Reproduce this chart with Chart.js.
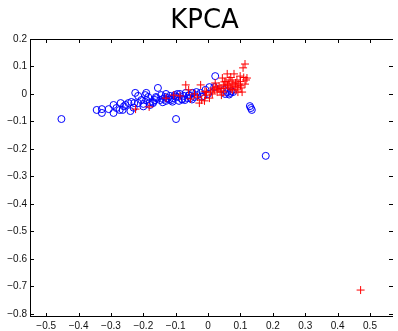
<!DOCTYPE html>
<html>
<head>
<meta charset="utf-8">
<script src="https://cdn.jsdelivr.net/npm/chart.js@4/dist/chart.umd.min.js"></script>
<style>
html,body{margin:0;padding:0;background:#fff;}
canvas{display:block;}
</style>
</head>
<body>
<canvas id="c" width="398" height="331"></canvas>
<script>
const titleText = "KPCA";
const xTicks = [-0.5,-0.4,-0.3,-0.2,-0.1,0,0.1,0.2,0.3,0.4,0.5];
const yTicks = [0.2,0.1,0,-0.1,-0.2,-0.3,-0.4,-0.5,-0.6,-0.7,-0.8];

const blueX = [-0.453,-0.344,-0.328,-0.328,-0.292,-0.292,-0.283,-0.270,-0.264,-0.255,-0.240,-0.246,-0.237,-0.225,-0.228,-0.216,-0.206,-0.194,-0.191,-0.191,-0.179,-0.170,-0.161,-0.155,-0.170,-0.148,-0.139,-0.133,-0.124,-0.118,-0.112,-0.103,-0.099,-0.094,-0.087,-0.081,-0.075,-0.069,-0.063,-0.057,-0.048,-0.042,-0.033,-0.023,-0.014,0.004,0.019,0.022,0.050,0.059,0.068,0.077,0.053,0.129,0.132,0.135,0.178,-0.200,-0.185,-0.164,-0.145,-0.130,-0.109,-0.090,-0.072,-0.054,-0.036,-0.273,-0.307,-0.216,-0.008,-0.160,-0.140,-0.120,-0.100,-0.080,-0.060,-0.130,-0.110,-0.095,-0.050,-0.020,0.000,0.065,0.072,-0.200,-0.180,-0.260,-0.230];
const blueY = [-0.091,-0.058,-0.069,-0.055,-0.040,-0.069,-0.051,-0.033,-0.058,-0.040,-0.062,-0.033,-0.029,0.004,-0.033,-0.033,-0.022,-0.004,0.004,-0.022,-0.040,-0.029,-0.011,0.022,-0.033,-0.022,-0.018,-0.011,-0.015,-0.007,-0.022,-0.004,-0.091,-0.011,0.000,-0.018,-0.007,0.004,-0.015,-0.004,0.004,-0.011,-0.004,0.004,-0.007,0.025,0.025,0.065,0.015,0.007,0.004,0.007,0.000,-0.044,-0.051,-0.058,-0.225,-0.036,-0.011,-0.022,-0.004,-0.025,-0.015,-0.025,-0.022,-0.015,0.007,-0.058,-0.055,-0.007,0.015,-0.015,-0.030,-0.020,-0.010,-0.020,-0.005,0.000,-0.028,0.000,-0.020,-0.010,0.000,-0.002,0.010,-0.045,-0.030,-0.045,-0.050];

const redX = [-0.224,-0.182,-0.069,-0.023,-0.027,-0.033,-0.008,0.007,0.016,0.022,0.034,0.044,0.047,0.053,0.059,0.062,0.068,0.074,0.080,0.083,0.089,0.095,0.099,0.102,0.108,0.114,0.117,0.120,0.114,0.105,0.028,0.041,0.004,-0.011,-0.042,-0.054,-0.087,-0.106,-0.130,0.013,0.019,0.025,0.031,0.037,0.047,0.050,0.065,0.071,0.077,0.086,0.092,0.471,-0.020,-0.005,0.060,0.070,0.085,0.090,0.100,0.110,0.075,0.055,0.040,0.100,-0.060,-0.010];
const redY = [-0.055,-0.047,0.033,0.033,-0.033,-0.011,-0.004,0.007,0.022,0.040,0.029,0.058,0.033,0.022,0.073,0.036,0.025,0.044,0.073,0.029,0.051,0.036,0.065,0.022,0.095,0.109,0.051,0.058,0.036,0.007,0.007,-0.004,-0.015,-0.025,0.000,-0.018,-0.007,-0.004,-0.015,0.000,0.015,0.025,0.018,0.011,0.007,0.044,0.051,0.018,0.036,0.015,0.007,-0.713,-0.022,0.007,0.030,0.060,0.040,0.025,0.045,0.060,0.015,0.045,0.020,0.030,0.015,0.010];

function pts(xs, ys){ return xs.map((x,i)=>({x:x,y:ys[i]})); }
function fmt(v){
  const s = (Math.round(v*10)/10).toString();
  return s.replace('-', '\u2212');
}

const framePlugin = {
  id: 'frame',
  afterDraw(chart){
    const ctx = chart.ctx;
    const a = chart.chartArea;
    const xs = chart.scales.x, ys = chart.scales.y;
    ctx.save();
    ctx.strokeStyle = '#000';
    ctx.lineWidth = 1;
    ctx.beginPath();
    ctx.moveTo(a.left+0.5, a.top+0.5); ctx.lineTo(a.right, a.top+0.5);
    ctx.moveTo(a.left+0.5, a.top); ctx.lineTo(a.left+0.5, a.bottom);
    ctx.moveTo(a.left, a.bottom-0.5); ctx.lineTo(a.right, a.bottom-0.5);
    const L = 4;
    xTicks.forEach(v=>{
      const p = Math.round(xs.getPixelForValue(v))+0.5;
      ctx.moveTo(p, a.bottom); ctx.lineTo(p, a.bottom-L);
      ctx.moveTo(p, a.top); ctx.lineTo(p, a.top+L);
    });
    yTicks.forEach(v=>{
      const p = Math.round(ys.getPixelForValue(v))+0.5;
      ctx.moveTo(a.left, p); ctx.lineTo(a.left+L, p);
      ctx.moveTo(a.right, p); ctx.lineTo(a.right-L, p);
    });
    ctx.stroke();
    ctx.fillStyle = '#000';
    ctx.font = '26px "DejaVu Sans"';
    ctx.textAlign = 'center';
    ctx.textBaseline = 'alphabetic';
    ctx.fillText(titleText, 204.5, 28);
    ctx.restore();
  }
};

new Chart(document.getElementById('c'), {
  type: 'scatter',
  data: {
    datasets: [
      {
        label: 'class 2',
        data: pts(redX, redY),
        pointStyle: 'cross',
        pointRadius: 4,
        pointHoverRadius: 4,
        borderColor: '#ff0000',
        backgroundColor: '#ff0000',
        pointBorderWidth: 1,
        borderWidth: 1
      },
      {
        label: 'class 1',
        data: pts(blueX, blueY),
        pointStyle: 'circle',
        pointRadius: 3.5,
        pointHoverRadius: 3.5,
        borderColor: '#0000ff',
        backgroundColor: 'rgba(0,0,0,0)',
        pointBorderWidth: 1,
        borderWidth: 1
      }
    ]
  },
  options: {
    responsive: false,
    animation: false,
    devicePixelRatio: 1,
    layout: { padding: { top: 39, right: 0, left: 0, bottom: 0 } },
    plugins: { legend: { display: false }, tooltip: { enabled: false }, title: { display: false } },
    scales: {
      x: {
        type: 'linear',
        min: -0.55, max: 0.571,
        afterBuildTicks(s){ s.ticks = xTicks.map(v=>({value:v})); },
        afterFit(s){ s.height = 14; },
        grid: { display: false, drawTicks: false },
        border: { display: false },
        ticks: {
          padding: 3,
          autoSkip: false,
          maxRotation: 0,
          color: '#111',
          font: { family: '"Liberation Sans", Arial, sans-serif', size: 10 },
          callback: (v)=>fmt(v)
        }
      },
      y: {
        type: 'linear',
        min: -0.811, max: 0.2,
        afterBuildTicks(s){ s.ticks = yTicks.map(v=>({value:v})); },
        afterFit(s){ s.width = 30; },
        grid: { display: false, drawTicks: false },
        border: { display: false },
        ticks: {
          padding: 3,
          autoSkip: false,
          color: '#111',
          font: { family: '"Liberation Sans", Arial, sans-serif', size: 10 },
          callback: (v)=>fmt(v)
        }
      }
    }
  },
  plugins: [framePlugin]
});
</script>
</body>
</html>
